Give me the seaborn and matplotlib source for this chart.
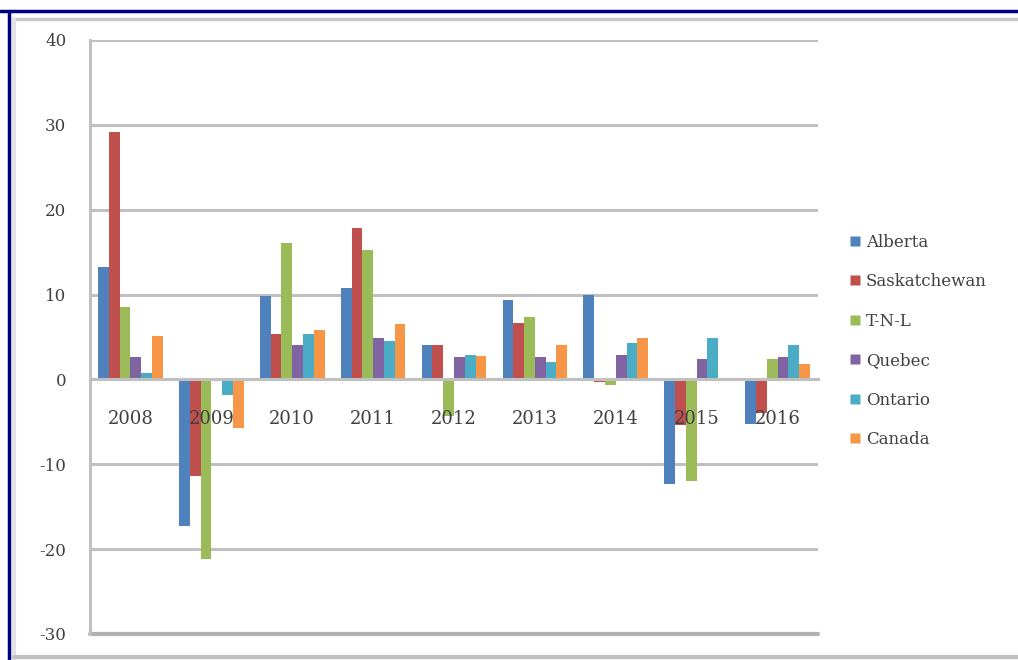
import matplotlib
matplotlib.use("Agg")
import matplotlib.pyplot as plt
from matplotlib.lines import Line2D
from matplotlib.ticker import FixedLocator
import numpy as np
import pandas as pd
import seaborn as sns

# Annual change (%) by province, 2008-2016
years = ["2008", "2009", "2010", "2011", "2012", "2013", "2014", "2015", "2016"]
provinces = ["Alberta", "Saskatchewan", "T-N-L", "Quebec", "Ontario", "Canada"]

alberta      = [13.3, -17.3,  9.8, 10.8,  4.1,  9.4,  9.9, -12.3, -5.2]
saskatchewan = [29.1, -11.4,  5.3, 17.9,  4.1,  6.7, -0.3,  -5.4, -3.9]
tnl          = [ 8.5, -21.2, 16.1, 15.3, -4.3,  7.4, -0.6, -12.0,  2.4]
quebec       = [ 2.6,  -0.2,  4.1,  4.9,  2.6,  2.7,  2.9,   2.4,  2.6]
ontario      = [ 0.8,  -1.8,  5.3,  4.5,  2.9,  2.0,  4.3,   4.9,  4.1]
canada       = [ 5.1,  -5.7,  5.8,  6.5,  2.8,  4.1,  4.9,   0.1,  1.8]

colors = ["#4F81BD", "#C0504D", "#9BBB59", "#8064A2", "#4BACC6", "#F79646"]

series = [alberta, saskatchewan, tnl, quebec, ontario, canada]
df = pd.DataFrame({
    "Year": np.tile(years, len(provinces)),
    "Province": np.repeat(provinces, len(years)),
    "Value": np.concatenate(series),
})

sns.set_theme(style="white")
plt.rcParams["font.family"] = ["DejaVu Serif", "DejaVu Sans"]
plt.rcParams["axes.unicode_minus"] = False

fig = plt.figure(figsize=(10.18, 6.6), dpi=100)
ax = fig.add_axes([90 / 1018, 1 - 634 / 660, (818 - 90) / 1018, (634 - 40) / 660])

sns.barplot(data=df, x="Year", y="Value", hue="Province", order=years,
            hue_order=provinces, palette=colors, width=0.8, saturation=1,
            edgecolor="none", ax=ax, legend=False)

grid_c = "#c0c0c0"
ax.set_ylim(-30, 40)
ax.set_xlim(-0.5, len(years) - 0.5)
ax.set_yticks(np.arange(-30, 41, 10))
ax.yaxis.grid(True, color=grid_c, linewidth=2.2)
ax.set_axisbelow(True)
# category labels sit on top of the bars
ax.xaxis.set_zorder(5)

for s in ["top", "right"]:
    ax.spines[s].set_visible(False)
ax.spines["left"].set_color(grid_c)
ax.spines["left"].set_linewidth(2.2)
ax.spines["bottom"].set_position(("data", 0))
ax.spines["bottom"].set_color(grid_c)
ax.spines["bottom"].set_linewidth(2.2)
ax.spines["bottom"].set_zorder(1)
ax.axhline(-30, color="#b0b0b0", linewidth=3, clip_on=False, zorder=1)

ax.tick_params(axis="y", length=5, width=2.2, color=grid_c, pad=12,
               labelsize=12, labelcolor="#404040")
ax.tick_params(axis="x", which="major", length=0, pad=22, labelsize=13,
               labelcolor="#404040")
ax.xaxis.set_minor_locator(FixedLocator(np.arange(-0.5, len(years), 1.0)))
ax.tick_params(axis="x", which="minor", length=5, width=1.5, color=grid_c,
               direction="out")
ax.set_xlabel("")
ax.set_ylabel("")

handles = [Line2D([], [], marker="s", linestyle="none", markersize=7,
                  markerfacecolor=c, markeredgecolor="none") for c in colors]
fig.legend(handles, provinces, loc="center left",
           bbox_to_anchor=(834 / 1018, 1 - 341 / 660), frameon=False,
           fontsize=12, labelspacing=1.35, handlelength=0.7,
           handletextpad=0.3, labelcolor="#404040")

# Window frame around the chart
fig.add_artist(Line2D([0, 1], [1 - 11 / 660] * 2, color="#000080", linewidth=2.5,
                      transform=fig.transFigure))
fig.add_artist(Line2D([9 / 1018] * 2, [0, 1 - 11 / 660], color="#000080",
                      linewidth=2.5, transform=fig.transFigure))
fig.add_artist(Line2D([14 / 1018, 1], [1 - 19 / 660] * 2, color="#c8c8c8",
                      linewidth=2.5, transform=fig.transFigure))
fig.add_artist(Line2D([14 / 1018] * 2, [0, 1 - 19 / 660], color="#e2e2e2",
                      linewidth=3, transform=fig.transFigure))
fig.add_artist(Line2D([14 / 1018, 1], [1 - 657 / 660] * 2, color="#c0c0c0",
                      linewidth=3, transform=fig.transFigure))

fig.savefig("out.png", dpi=100, facecolor="white")
